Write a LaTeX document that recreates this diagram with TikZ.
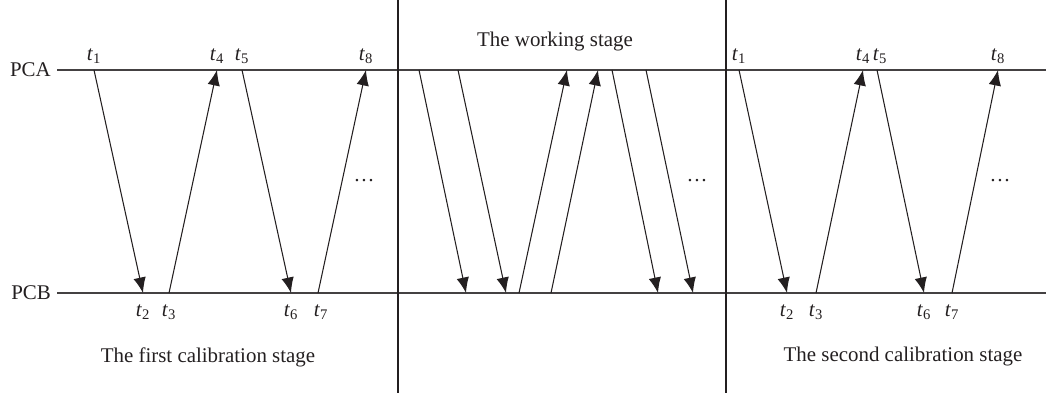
\documentclass[tikz,border=0pt]{standalone}
\usepackage{fontspec}
\setmainfont{Liberation Serif}
\usetikzlibrary{arrows.meta}

\newcommand{\tsub}[1]{\textit{t}\textsubscript{#1}}

\begin{document}
\begin{tikzpicture}[>={Latex[length=3.1mm, width=2.5mm]}, font=\fontsize{11.9}{14}\selectfont,
  msg/.style={->, ink, line width=0.6pt},
  axis/.style={ink!85, line width=0.75pt},
  tup/.style={above=2.5pt, inner sep=1pt, text=ink},
  tdn/.style={below=5.5pt, inner sep=1pt, text=ink}]
  \definecolor{ink}{HTML}{231F20}
  \useasboundingbox (0,0) rectangle (20.94,7.92);
  % time lines of the two clocks
  \node[anchor=east, text=ink] (pca) at (1.14,6.52) {PCA};
  \node[anchor=east, text=ink] (pcb) at (1.14,2.06) {PCB};
  \coordinate (pcaend) at (20.92,6.52);
  \coordinate (pcbend) at (20.92,2.06);
  \draw[axis] (pca.east) -- (pcaend);
  \draw[axis] (pcb.east) -- (pcbend);
  % stage borders
  \coordinate (sepatop) at (7.96,7.92);
  \coordinate (sepabot) at (7.96,0.06);
  \coordinate (sepbtop) at (14.52,7.92);
  \coordinate (sepbbot) at (14.52,0.06);
  \draw[ink, line width=0.75pt] (sepatop) -- (sepabot);
  \draw[ink, line width=0.75pt] (sepbtop) -- (sepbbot);
  % first calibration stage
  \coordinate (a1) at (1.88,6.52);
  \coordinate (b2) at (2.86,2.06);
  \coordinate (b3) at (3.38,2.06);
  \coordinate (a4) at (4.34,6.52);
  \coordinate (a5) at (4.84,6.52);
  \coordinate (b6) at (5.82,2.06);
  \coordinate (b7) at (6.36,2.06);
  \coordinate (a8) at (7.32,6.52);
  \draw[msg] (a1) -- (b2);
  \draw[msg] (b3) -- (a4);
  \draw[msg] (a5) -- (b6);
  \draw[msg] (b7) -- (a8);
  \node[tup] (la1) at (a1) {\tsub{1}};
  \node[tdn] (lb2) at (b2) {\tsub{2}};
  \node[tdn] (lb3) at (b3) {\tsub{3}};
  \node[tup] (la4) at (a4) {\tsub{4}};
  \node[tup] (la5) at (a5) {\tsub{5}};
  \node[tdn] (lb6) at (b6) {\tsub{6}};
  \node[tdn] (lb7) at ([xshift=0.06cm]b7) {\tsub{7}};
  \node[tup] (la8) at (a8) {\tsub{8}};
  \node[text=ink] (dotsa) at (7.28,4.3) {\dots};
  \node[text=ink] (firststage) at (4.16,0.78) {The first calibration stage};
  % working stage
  \coordinate (wa1) at (8.38,6.52);
  \coordinate (wb1) at (9.32,2.06);
  \coordinate (wa2) at (9.16,6.52);
  \coordinate (wb2) at (10.12,2.06);
  \coordinate (wb3) at (10.38,2.06);
  \coordinate (wa3) at (11.34,6.52);
  \coordinate (wb4) at (11.02,2.06);
  \coordinate (wa4) at (11.96,6.52);
  \coordinate (wa5) at (12.24,6.52);
  \coordinate (wb5) at (13.16,2.06);
  \coordinate (wa6) at (12.92,6.52);
  \coordinate (wb6) at (13.86,2.06);
  \draw[msg] (wa1) -- (wb1);
  \draw[msg] (wa2) -- (wb2);
  \draw[msg] (wb3) -- (wa3);
  \draw[msg] (wb4) -- (wa4);
  \draw[msg] (wa5) -- (wb5);
  \draw[msg] (wa6) -- (wb6);
  \node[text=ink] (dotsw) at (13.94,4.3) {\dots};
  \node[text=ink] (workstage) at (11.1,7.08) {The working stage};
  % second calibration stage
  \coordinate (c1) at (14.78,6.52);
  \coordinate (d2) at (15.74,2.06);
  \coordinate (d3) at (16.32,2.06);
  \coordinate (c4) at (17.26,6.52);
  \coordinate (c5) at (17.54,6.52);
  \coordinate (d6) at (18.48,2.06);
  \coordinate (d7) at (19.04,2.06);
  \coordinate (c8) at (19.96,6.52);
  \draw[msg] (c1) -- (d2);
  \draw[msg] (d3) -- (c4);
  \draw[msg] (c5) -- (d6);
  \draw[msg] (d7) -- (c8);
  \node[tup] (lc1) at (c1) {\tsub{1}};
  \node[tdn] (ld2) at (d2) {\tsub{2}};
  \node[tdn] (ld3) at (d3) {\tsub{3}};
  \node[tup] (lc4) at (c4) {\tsub{4}};
  \node[tup] (lc5) at ([xshift=0.06cm]c5) {\tsub{5}};
  \node[tdn] (ld6) at (d6) {\tsub{6}};
  \node[tdn] (ld7) at (d7) {\tsub{7}};
  \node[tup] (lc8) at (c8) {\tsub{8}};
  \node[text=ink] (dotsb) at (20.0,4.3) {\dots};
  \node[text=ink] (secondstage) at (18.06,0.78) {The second calibration stage};
\end{tikzpicture}
\end{document}
